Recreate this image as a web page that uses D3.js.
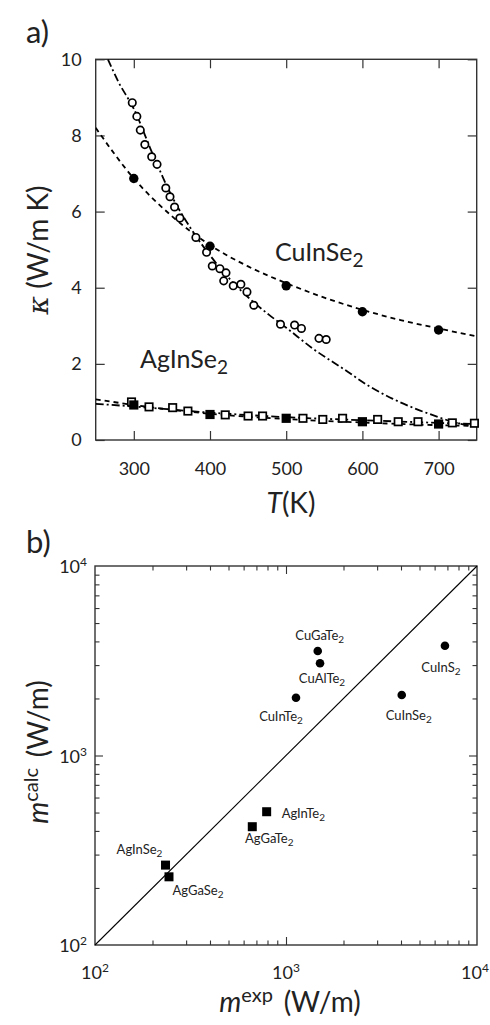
<!DOCTYPE html>
<html>
<head>
<meta charset="utf-8">
<script src="https://cdn.jsdelivr.net/npm/d3@7/dist/d3.min.js"></script>
<style>
  html, body { margin: 0; padding: 0; background: #fff; }
  svg { display: block; }
  text { font-family: Lato, "Open Sans", sans-serif; fill: #222; }
</style>
</head>
<body>
<svg id="chart" width="490" height="1025"></svg>
<script>
// ---- Panel a: thermal conductivity vs temperature ----
const cuExpT = [298, 304, 308.5, 314.5, 323.5, 330.5, 342, 347.5, 353.5, 360.5, 381.5, 395.5, 403, 413, 421, 418, 430.5, 440.5, 448.5, 457.5, 492.5, 511, 520, 543, 552.5];
const cuExpK = [8.86, 8.50, 8.14, 7.76, 7.44, 7.24, 6.62, 6.39, 6.12, 5.83, 5.32, 4.93, 4.57, 4.50, 4.39, 4.18, 4.05, 4.09, 3.89, 3.54, 3.04, 3.02, 2.93, 2.67, 2.64];
const calcT = [300, 400, 500, 600, 700];
const cuCalcK = [6.87, 5.09, 4.05, 3.37, 2.89];
const agCalcK = [0.92, 0.67, 0.57, 0.48, 0.42];
const agExpT = [297, 320, 351, 371, 420, 450, 469, 522, 548, 574, 620, 647, 673, 718, 747];
const agExpK = [1.00, 0.87, 0.85, 0.76, 0.66, 0.63, 0.63, 0.57, 0.54, 0.57, 0.54, 0.48, 0.48, 0.45, 0.44];

// fitted curves
const cuCalcFitT = [250, 300, 350, 400, 450, 500, 550, 600, 650, 700, 750];
const cuCalcFitK = [8.2, 6.87, 5.88, 5.12, 4.56, 4.12, 3.74, 3.42, 3.15, 2.93, 2.72];
const cuExpFitT = [266, 280, 300, 325, 350, 375, 400, 425, 450, 478, 500, 535, 575, 610, 640, 675, 700, 723, 750];
const cuExpFitK = [10.0, 9.4, 8.7, 7.5, 6.4, 5.55, 4.85, 4.25, 3.75, 3.28, 2.95, 2.40, 1.87, 1.40, 1.08, 0.78, 0.60, 0.45, 0.36];
const agFitT = [250, 300, 400, 500, 600, 700, 750];
const agCalcFitK = [1.07, 0.92, 0.69, 0.55, 0.46, 0.39, 0.37];
const agExpFitK = [0.95, 0.88, 0.72, 0.60, 0.52, 0.45, 0.42];

const xTicksA = [300, 400, 500, 600, 700];
const yTicksA = [0, 2, 4, 6, 8, 10];

// ---- Panel b: calculated vs experimental m ----
const compounds = ["CuGaTe2", "CuAlTe2", "CuInTe2", "CuInS2", "CuInSe2", "AgInTe2", "AgGaTe2", "AgInSe2", "AgGaSe2"];
const mExp  = [1466, 1507, 1128, 6795, 4036, 792, 666, 234, 244];
const mCalc = [3560, 3070, 2018, 3797, 2085, 505, 421, 264, 229];
const logTicks = [100, 1000, 10000];

// label placement around each marker
const labelPos = {
  CuGaTe2: { dx: 2,   dy: -11, anchor: "middle" },
  CuAlTe2: { dx: 2,   dy: 20,  anchor: "middle" },
  CuInTe2: { dx: -15, dy: 23,  anchor: "middle" },
  CuInS2:  { dx: -4,  dy: 26,  anchor: "middle" },
  CuInSe2: { dx: 7,   dy: 25,  anchor: "middle" },
  AgInTe2: { dx: 15,  dy: 6,   anchor: "start" },
  AgGaTe2: { dx: 17,  dy: 16,  anchor: "middle" },
  AgInSe2: { dx: -26, dy: -11, anchor: "middle" },
  AgGaSe2: { dx: 29,  dy: 18,  anchor: "middle" }
};

const svg = d3.select("#chart");
const frameColor = "#333";

// write a chemical formula with its digits as subscripts
function formula(sel, str, subSize) {
  const parts = str.match(/[A-Za-z]+|\d+/g);
  let sub = false;
  parts.forEach(p => {
    if (/^\d+$/.test(p)) {
      sel.append("tspan").attr("font-size", subSize).attr("dy", "0.3em").text(p);
      sub = true;
    } else {
      const t = sel.append("tspan").text(p);
      if (sub) { t.attr("dy", "-0.3em"); sub = false; }
    }
  });
}

// ================= Panel a =================
const A = { left: 95.7, right: 476.7, top: 59.3, bottom: 440 };
const xA = d3.scaleLinear().domain([250, 750]).range([A.left, A.right]);
const yA = d3.scaleLinear().domain([0, 10]).range([A.bottom, A.top]);

svg.append("defs").append("clipPath").attr("id", "clipA")
  .append("rect").attr("x", A.left).attr("y", A.top)
  .attr("width", A.right - A.left).attr("height", A.bottom - A.top);

const gA = svg.append("g");
const tickLen = 9;

// inward ticks via d3 axes
gA.append("g").attr("transform", `translate(0,${A.bottom})`)
  .call(d3.axisBottom(xA).tickValues(xTicksA).tickSize(-tickLen).tickPadding(22).tickFormat(d3.format("d")))
  .call(g => g.select(".domain").remove())
  .call(g => g.selectAll("line").attr("stroke", frameColor).attr("stroke-width", 1.2))
  .call(g => g.selectAll("text").attr("font-size", 18).attr("fill", "#222"));
gA.append("g").attr("transform", `translate(0,${A.top})`)
  .call(d3.axisTop(xA).tickValues(xTicksA).tickSize(-tickLen).tickFormat(""))
  .call(g => g.select(".domain").remove())
  .call(g => g.selectAll("line").attr("stroke", frameColor).attr("stroke-width", 1.2));
gA.append("g").attr("transform", `translate(${A.left},0)`)
  .call(d3.axisLeft(yA).tickValues(yTicksA).tickSize(-tickLen).tickPadding(14).tickFormat(d3.format("d")))
  .call(g => g.select(".domain").remove())
  .call(g => g.selectAll("line").attr("stroke", frameColor).attr("stroke-width", 1.2))
  .call(g => g.selectAll("text").attr("font-size", 18).attr("fill", "#222"));
gA.append("g").attr("transform", `translate(${A.right},0)`)
  .call(d3.axisRight(yA).tickValues(yTicksA).tickSize(-tickLen).tickFormat(""))
  .call(g => g.select(".domain").remove())
  .call(g => g.selectAll("line").attr("stroke", frameColor).attr("stroke-width", 1.2));

gA.append("rect").attr("x", A.left).attr("y", A.top)
  .attr("width", A.right - A.left).attr("height", A.bottom - A.top)
  .attr("fill", "none").attr("stroke", frameColor).attr("stroke-width", 1.4);

const lineA = d3.line().curve(d3.curveMonotoneX).x(d => xA(d[0])).y(d => yA(d[1]));
const curves = gA.append("g").attr("clip-path", "url(#clipA)")
  .attr("fill", "none").attr("stroke", "#000").attr("stroke-width", 1.8);
curves.append("path").attr("d", lineA(d3.zip(cuCalcFitT, cuCalcFitK))).attr("stroke-dasharray", "5,4");
curves.append("path").attr("d", lineA(d3.zip(cuExpFitT, cuExpFitK))).attr("stroke-dasharray", "8,3,2,3");
curves.append("path").attr("d", lineA(d3.zip(agFitT, agCalcFitK))).attr("stroke-dasharray", "5,4");
curves.append("path").attr("d", lineA(d3.zip(agFitT, agExpFitK))).attr("stroke-dasharray", "8,3,2,3");

// markers
gA.append("g").selectAll("circle").data(d3.zip(cuExpT, cuExpK)).join("circle")
  .attr("cx", d => xA(d[0])).attr("cy", d => yA(d[1])).attr("r", 3.7)
  .attr("fill", "#fff").attr("stroke", "#000").attr("stroke-width", 1.7);
gA.append("g").selectAll("circle").data(d3.zip(calcT, cuCalcK)).join("circle")
  .attr("cx", d => xA(d[0])).attr("cy", d => yA(d[1])).attr("r", 4.7).attr("fill", "#000");
gA.append("g").selectAll("rect").data(d3.zip(agExpT, agExpK)).join("rect")
  .attr("x", d => xA(d[0]) - 3.7).attr("y", d => yA(d[1]) - 3.7)
  .attr("width", 7.4).attr("height", 7.4)
  .attr("fill", "#fff").attr("stroke", "#000").attr("stroke-width", 1.7);
gA.append("g").selectAll("rect").data(d3.zip(calcT, agCalcK)).join("rect")
  .attr("x", d => xA(d[0]) - 4.6).attr("y", d => yA(d[1]) - 4.6)
  .attr("width", 9.2).attr("height", 9.2).attr("fill", "#000");

// labels
formula(gA.append("text").attr("x", 275).attr("y", 261).attr("font-size", 25), "CuInSe2", 19);
formula(gA.append("text").attr("x", 140).attr("y", 368).attr("font-size", 25), "AgInSe2", 19);

svg.append("text").attr("x", 26).attr("y", 43).attr("font-size", 31).text("a)");
const xlabA = svg.append("text").attr("x", 291).attr("y", 513).attr("font-size", 28).attr("text-anchor", "middle");
xlabA.append("tspan").attr("font-style", "italic").text("T");
xlabA.append("tspan").text("(K)");
const ylabA = svg.append("text").attr("transform", "translate(48,250) rotate(-90)")
  .attr("font-size", 28).attr("text-anchor", "middle");
ylabA.append("tspan").attr("font-style", "italic").attr("font-family", "DejaVu Serif, serif").text("\u03BA");
ylabA.append("tspan").text(" (W/m K)");

// ================= Panel b =================
const B = { left: 95, right: 477, top: 566, bottom: 945 };
const xB = d3.scaleLog().domain([100, 10000]).range([B.left, B.right]);
const yB = d3.scaleLog().domain([100, 10000]).range([B.bottom, B.top]);
const gB = svg.append("g");

const minor = [];
[100, 1000].forEach(b => { for (let k = 2; k <= 9; k++) minor.push(b * k); });

function logAxis(axisFn, scale, pos, horizontal) {
  const g = gB.append("g").attr("transform", horizontal ? `translate(0,${pos})` : `translate(${pos},0)`);
  g.call(axisFn(scale).tickValues(minor).tickSize(-4.5).tickFormat(""))
    .call(s => s.select(".domain").remove());
  const g2 = gB.append("g").attr("transform", horizontal ? `translate(0,${pos})` : `translate(${pos},0)`);
  g2.call(axisFn(scale).tickValues(logTicks.slice(1, 2)).tickSize(-8).tickFormat(""))
    .call(s => s.select(".domain").remove());
  gB.selectAll(".tick line").attr("stroke", frameColor).attr("stroke-width", 1.1);
}
logAxis(d3.axisBottom, xB, B.bottom, true);
logAxis(d3.axisTop, xB, B.top, true);
logAxis(d3.axisLeft, yB, B.left, false);
logAxis(d3.axisRight, yB, B.right, false);

gB.append("rect").attr("x", B.left).attr("y", B.top)
  .attr("width", B.right - B.left).attr("height", B.bottom - B.top)
  .attr("fill", "none").attr("stroke", frameColor).attr("stroke-width", 1.4);

// power-of-ten tick labels
function pow10(sel, v) {
  const e = Math.round(Math.log10(v));
  sel.append("tspan").text("10");
  sel.append("tspan").attr("font-size", 12).attr("dy", "-0.55em").text(e);
}
logTicks.forEach(v => {
  pow10(gB.append("text").attr("x", Math.min(xB(v), 475)).attr("y", 979).attr("font-size", 18).attr("text-anchor", "middle"), v);
  pow10(gB.append("text").attr("x", B.left - 8).attr("y", yB(v) + 7).attr("font-size", 18).attr("text-anchor", "end"), v);
});

// parity line
gB.append("line").attr("x1", xB(100)).attr("y1", yB(100)).attr("x2", xB(10000)).attr("y2", yB(10000))
  .attr("stroke", "#000").attr("stroke-width", 1.1);

const pts = compounds.map((c, i) => ({ name: c, x: mExp[i], y: mCalc[i] }));
gB.append("g").selectAll("circle").data(pts.filter(d => d.name.startsWith("Cu"))).join("circle")
  .attr("cx", d => xB(d.x)).attr("cy", d => yB(d.y)).attr("r", 4.3).attr("fill", "#000");
gB.append("g").selectAll("rect").data(pts.filter(d => d.name.startsWith("Ag"))).join("rect")
  .attr("x", d => xB(d.x) - 4.5).attr("y", d => yB(d.y) - 4.5)
  .attr("width", 9).attr("height", 9).attr("fill", "#000");

pts.forEach(d => {
  const p = labelPos[d.name];
  const t = gB.append("text").attr("x", xB(d.x) + p.dx).attr("y", yB(d.y) + p.dy)
    .attr("font-size", 13).attr("text-anchor", p.anchor);
  formula(t, d.name, 10);
});

svg.append("text").attr("x", 26).attr("y", 553).attr("font-size", 31).text("b)");
const xlabB = svg.append("text").attr("x", 290).attr("y", 1012).attr("font-size", 28).attr("text-anchor", "middle");
xlabB.append("tspan").attr("font-style", "italic").text("m");
xlabB.append("tspan").attr("font-size", 20).attr("dy", "-0.5em").text("exp");
xlabB.append("tspan").attr("dy", "0.35em").text("\u2009 (W/m)");
const ylabB = svg.append("text").attr("transform", "translate(48,752) rotate(-90)")
  .attr("font-size", 28).attr("text-anchor", "middle");
ylabB.append("tspan").attr("font-style", "italic").text("m");
ylabB.append("tspan").attr("font-size", 20).attr("dy", "-0.5em").text("calc");
ylabB.append("tspan").attr("dy", "0.35em").text("\u2009 (W/m)");
</script>
</body>
</html>
